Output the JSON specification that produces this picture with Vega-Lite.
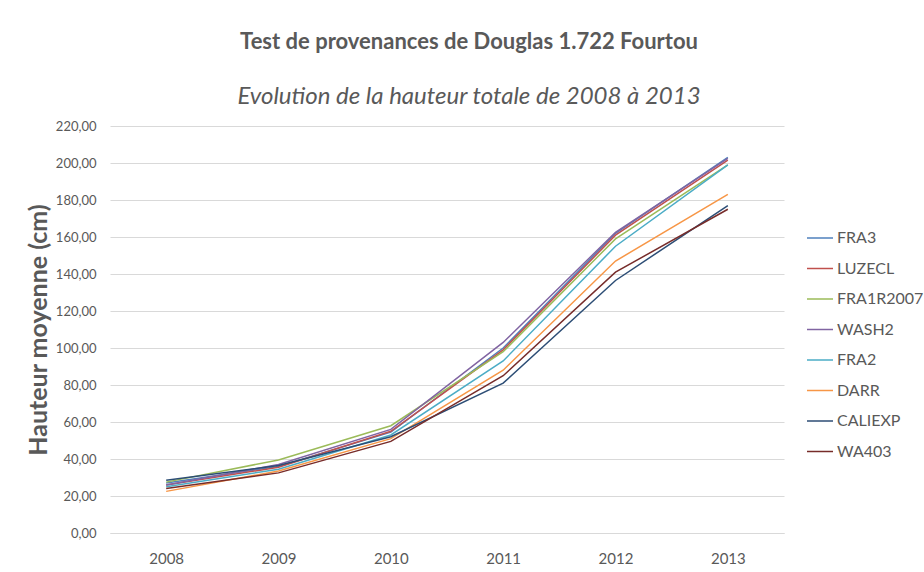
{
  "$schema": "https://vega.github.io/schema/vega-lite/v6.json",
  "width": 674,
  "height": 407,
  "autosize": {"type": "none"},
  "padding": {"left": 110, "top": 126, "right": 140, "bottom": 39},
  "background": "white",
  "title": {
    "text": "Test de provenances de Douglas 1.722 Fourtou",
    "subtitle": "Evolution de la hauteur totale de 2008 à 2013",
    "anchor": "middle",
    "dx": 22,
    "offset": 10,
    "font": "Lato",
    "fontSize": 22,
    "fontWeight": "bold",
    "color": "#595959",
    "subtitleFont": "Lato",
    "subtitleFontSize": 24,
    "subtitleFontStyle": "italic",
    "subtitleColor": "#595959",
    "subtitlePadding": 31
  },
  "config": {
    "view": {"stroke": null},
    "font": "Lato"
  },
  "data": {
    "values": [
      {"annee": "2008", "provenance": "FRA3", "hauteur": 27.0},
      {"annee": "2009", "provenance": "FRA3", "hauteur": 36.0},
      {"annee": "2010", "provenance": "FRA3", "hauteur": 54.5},
      {"annee": "2011", "provenance": "FRA3", "hauteur": 100.0},
      {"annee": "2012", "provenance": "FRA3", "hauteur": 162.0},
      {"annee": "2013", "provenance": "FRA3", "hauteur": 203.0},
      {"annee": "2008", "provenance": "LUZECL", "hauteur": 26.0},
      {"annee": "2009", "provenance": "LUZECL", "hauteur": 35.5},
      {"annee": "2010", "provenance": "LUZECL", "hauteur": 55.0},
      {"annee": "2011", "provenance": "LUZECL", "hauteur": 99.0},
      {"annee": "2012", "provenance": "LUZECL", "hauteur": 161.0},
      {"annee": "2013", "provenance": "LUZECL", "hauteur": 201.5},
      {"annee": "2008", "provenance": "FRA1R2007", "hauteur": 27.5},
      {"annee": "2009", "provenance": "FRA1R2007", "hauteur": 39.5},
      {"annee": "2010", "provenance": "FRA1R2007", "hauteur": 58.0},
      {"annee": "2011", "provenance": "FRA1R2007", "hauteur": 98.0},
      {"annee": "2012", "provenance": "FRA1R2007", "hauteur": 159.0},
      {"annee": "2013", "provenance": "FRA1R2007", "hauteur": 199.0},
      {"annee": "2008", "provenance": "WASH2", "hauteur": 26.0},
      {"annee": "2009", "provenance": "WASH2", "hauteur": 37.0},
      {"annee": "2010", "provenance": "WASH2", "hauteur": 56.0},
      {"annee": "2011", "provenance": "WASH2", "hauteur": 103.0},
      {"annee": "2012", "provenance": "WASH2", "hauteur": 162.5},
      {"annee": "2013", "provenance": "WASH2", "hauteur": 202.5},
      {"annee": "2008", "provenance": "FRA2", "hauteur": 25.0},
      {"annee": "2009", "provenance": "FRA2", "hauteur": 34.5},
      {"annee": "2010", "provenance": "FRA2", "hauteur": 53.0},
      {"annee": "2011", "provenance": "FRA2", "hauteur": 93.0},
      {"annee": "2012", "provenance": "FRA2", "hauteur": 155.0},
      {"annee": "2013", "provenance": "FRA2", "hauteur": 199.0},
      {"annee": "2008", "provenance": "DARR", "hauteur": 22.5},
      {"annee": "2009", "provenance": "DARR", "hauteur": 33.5},
      {"annee": "2010", "provenance": "DARR", "hauteur": 51.0},
      {"annee": "2011", "provenance": "DARR", "hauteur": 88.0},
      {"annee": "2012", "provenance": "DARR", "hauteur": 147.0},
      {"annee": "2013", "provenance": "DARR", "hauteur": 183.0},
      {"annee": "2008", "provenance": "CALIEXP", "hauteur": 28.5},
      {"annee": "2009", "provenance": "CALIEXP", "hauteur": 36.5},
      {"annee": "2010", "provenance": "CALIEXP", "hauteur": 52.0},
      {"annee": "2011", "provenance": "CALIEXP", "hauteur": 81.0},
      {"annee": "2012", "provenance": "CALIEXP", "hauteur": 136.5},
      {"annee": "2013", "provenance": "CALIEXP", "hauteur": 177.0},
      {"annee": "2008", "provenance": "WA403", "hauteur": 24.0},
      {"annee": "2009", "provenance": "WA403", "hauteur": 32.5},
      {"annee": "2010", "provenance": "WA403", "hauteur": 49.5},
      {"annee": "2011", "provenance": "WA403", "hauteur": 85.0},
      {"annee": "2012", "provenance": "WA403", "hauteur": 141.0},
      {"annee": "2013", "provenance": "WA403", "hauteur": 175.0}
    ]
  },
  "mark": {"type": "line", "strokeWidth": 1.5},
  "encoding": {
    "x": {
      "field": "annee",
      "type": "ordinal",
      "scale": {"type": "point", "padding": 0.5},
      "axis": {
        "title": null,
        "labelAngle": 0,
        "labelFontSize": 15,
        "labelColor": "#595959",
        "labelPadding": 18,
        "ticks": false,
        "domainColor": "#d9d9d9",
        "grid": false
      }
    },
    "y": {
      "field": "hauteur",
      "type": "quantitative",
      "scale": {"domain": [0, 220], "nice": false},
      "axis": {
        "title": "Hauteur moyenne (cm)",
        "titleFontSize": 25,
        "titleFontWeight": "bold",
        "titleColor": "#595959",
        "titlePadding": 4,
        "values": [0, 20, 40, 60, 80, 100, 120, 140, 160, 180, 200, 220],
        "labelExpr": "replace(format(datum.value, '.2f'), '.', ',')",
        "labelFontSize": 13,
        "labelColor": "#595959",
        "labelPadding": 14,
        "ticks": false,
        "domain": false,
        "gridColor": "#d9d9d9",
        "gridWidth": 1
      }
    },
    "color": {
      "field": "provenance",
      "type": "nominal",
      "scale": {
        "domain": ["FRA3", "LUZECL", "FRA1R2007", "WASH2", "FRA2", "DARR", "CALIEXP", "WA403"],
        "range": ["#4F81BD", "#C0504D", "#9BBB59", "#8064A2", "#4BACC6", "#F79646", "#2C4D75", "#772C2A"]
      },
      "legend": {
        "title": null,
        "orient": "none",
        "legendX": 696,
        "legendY": 98,
        "symbolType": "stroke",
        "symbolSize": 676,
        "symbolStrokeWidth": 1.5,
        "labelFontSize": 16,
        "labelColor": "#595959",
        "labelOffset": 3,
        "rowPadding": 8.5
      }
    }
  }
}
